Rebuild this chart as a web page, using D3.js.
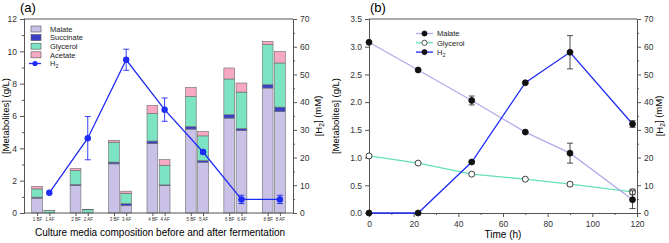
<!DOCTYPE html>
<html>
<head>
<meta charset="utf-8">
<script src="https://cdn.jsdelivr.net/npm/d3@7"></script>
<style>
  body { margin: 0; background: #fff; }
  svg { font-family: "Liberation Sans", Arial, sans-serif; }
</style>
</head>
<body>
<svg id="chart" width="669" height="243"></svg>
<script>
// panel (a) - metabolites before / after fermentation
const groups = ['1', '2', '3', '4', '5', '6', '8']
const phases = ['BF', 'AF']
const barLabels = ['1 BF', '1 AF', '2 BF', '2 AF', '3 BF', '3 AF', '4 BF', '4 AF', '5 BF', '5 AF', '6 BF', '6 AF', '8 BF', '8 AF']
const malate = [0.92, 0, 1.70, 0, 3.04, 0.45, 4.30, 1.70, 5.19, 3.14, 5.87, 5.10, 7.73, 6.28]
const succinate = [0.06, 0, 0.06, 0, 0.11, 0.13, 0.15, 0.04, 0.16, 0.10, 0.21, 0.12, 0.21, 0.27]
const glycerol = [0.51, 0.15, 0.87, 0.20, 1.23, 0.64, 1.70, 1.21, 1.86, 1.53, 2.21, 2.26, 2.48, 2.73]
const acetate = [0.16, 0.02, 0.12, 0.02, 0.12, 0.13, 0.50, 0.35, 0.56, 0.27, 0.68, 0.56, 0.20, 0.72]
const h2Groups = [7.3, 27, 55.3, 37.3, 22, 4.9, 4.9]
const h2GroupsErr = [0, 7.8, 3.8, 4.2, 0.6, 1.5, 1.5]

// panel (b) - time course
const timeH = [0, 22, 46, 70, 90, 118]
const malateT = [3.08, 2.58, 2.03, 1.46, 1.08, 0.24]
const malateTErr = [0, 0, 0.08, 0, 0.18, 0.16]
const glycerolT = [1.03, 0.90, 0.70, 0.61, 0.52, 0.38]
const glycerolTErr = [0, 0, 0, 0, 0.03, 0.05]
const h2T = [0, 0, 18.4, 47, 58, 32.1]
const h2TErr = [0, 0, 0, 0, 6, 1.2]

const COL = {
    malate: '#c9c1e6',
    succinate: '#3b40c8',
    glycerol: '#7ce3c3',
    acetate: '#f7a9c2',
    h2: '#1f2cf5',
    malateLine: '#b4acea',
    glycerolLine: '#63e2b6',
    axis: '#555'
}
const TICK_FONT = 8.5

const svg = d3.select('#chart')

// "H" with subscript 2, plus optional tail
function h2Text(sel, tail) {
    sel.text(sel.attr('data-head') || 'H')
    sel.append('tspan').attr('font-size', '0.7em').attr('dy', '0.35em').text('2')
    sel.append('tspan').attr('dy', '-0.35em').text(tail || '')
}

function styleAxis(g, size) {
    g.select('.domain').attr('stroke', COL.axis)
    g.selectAll('.tick line').attr('stroke', COL.axis)
    g.selectAll('.tick text').attr('fill', '#333').attr('font-size', size || TICK_FONT)
}

// ---------- panel a ----------
const A = {left: 24, right: 293, top: 19, bottom: 213}
const xa = d3.scaleBand().domain(groups).range([A.left, A.right])
const xaIn = d3.scaleBand().domain(phases).range([-11.5, 11.5]).paddingInner(0.12)
const ya = d3.scaleLinear().domain([0, 12]).range([A.bottom, A.top])
const yaR = d3.scaleLinear().domain([0, 70]).range([A.bottom, A.top])
const barX = (g, p) => xa(g) + xa.bandwidth() / 2 + xaIn(p)

const rows = barLabels.map((l, i) => ({
    group: groups[Math.floor(i / 2)], phase: phases[i % 2],
    malate: malate[i], succinate: succinate[i], glycerol: glycerol[i], acetate: acetate[i]
}))
const keys = ['malate', 'succinate', 'glycerol', 'acetate']
const stacked = d3.stack().keys(keys)(rows)

const gA = svg.append('g')
gA.selectAll('g.layer').data(stacked).enter().append('g')
    .attr('class', 'layer')
    .attr('fill', (d) => COL[d.key])
    .selectAll('rect').data((d) => d.filter((s) => s[1] - s[0] > 0)).enter().append('rect')
    .attr('x', (d) => barX(d.data.group, d.data.phase))
    .attr('width', xaIn.bandwidth())
    .attr('y', (d) => ya(d[1]))
    .attr('height', (d) => ya(d[0]) - ya(d[1]))
    .attr('stroke', '#6a6a6a')
    .attr('stroke-width', 0.6)

// frame top + bottom
gA.append('line').attr('x1', A.left).attr('x2', A.right).attr('y1', A.top).attr('y2', A.top)
    .attr('stroke', COL.axis)
gA.append('line').attr('x1', A.left).attr('x2', A.right).attr('y1', A.bottom).attr('y2', A.bottom)
    .attr('stroke', COL.axis)

gA.append('g').attr('transform', `translate(${A.left},0)`)
    .call(d3.axisLeft(ya).tickValues(d3.range(0, 13, 2)).tickSize(4).tickPadding(3))
    .call(styleAxis)
gA.append('g').attr('transform', `translate(${A.left},0)`)
    .call(d3.axisLeft(ya).tickValues(d3.range(1, 12, 2)).tickSize(2).tickFormat(''))
    .call(styleAxis)
gA.append('g').attr('transform', `translate(${A.right},0)`)
    .call(d3.axisRight(yaR).tickValues(d3.range(0, 71, 10)).tickSize(4).tickPadding(3))
    .call(styleAxis)
gA.append('g').attr('transform', `translate(${A.right},0)`)
    .call(d3.axisRight(yaR).tickValues(d3.range(5, 70, 10)).tickSize(2).tickFormat(''))
    .call(styleAxis)

const centers = rows.map((r) => barX(r.group, r.phase) + xaIn.bandwidth() / 2)
const xTickScale = d3.scaleOrdinal().domain(barLabels).range(centers)
gA.append('g').attr('transform', `translate(0,${A.bottom})`)
    .call(d3.axisBottom(xTickScale).tickSize(3).tickPadding(2))
    .call((g) => g.select('.domain').remove())
    .call(styleAxis, 4.5)

// H2 line (a)
const h2Pts = groups.map((g, i) => ({
    x: barX(g, 'AF') + xaIn.bandwidth() / 2,
    v: h2Groups[i], e: h2GroupsErr[i]
}))
gA.append('path').datum(h2Pts)
    .attr('fill', 'none').attr('stroke', COL.h2).attr('stroke-width', 1.3)
    .attr('d', d3.line().x((d) => d.x).y((d) => yaR(d.v)))
const errA = gA.selectAll('g.errA').data(h2Pts.filter((d) => d.e > 0)).enter().append('g')
    .attr('stroke', COL.h2).attr('stroke-width', 0.9)
errA.append('line').attr('x1', (d) => d.x).attr('x2', (d) => d.x)
    .attr('y1', (d) => yaR(d.v + d.e)).attr('y2', (d) => yaR(d.v - d.e))
errA.append('line').attr('x1', (d) => d.x - 3).attr('x2', (d) => d.x + 3)
    .attr('y1', (d) => yaR(d.v + d.e)).attr('y2', (d) => yaR(d.v + d.e))
errA.append('line').attr('x1', (d) => d.x - 3).attr('x2', (d) => d.x + 3)
    .attr('y1', (d) => yaR(d.v - d.e)).attr('y2', (d) => yaR(d.v - d.e))
gA.selectAll('circle.h2a').data(h2Pts).enter().append('circle')
    .attr('cx', (d) => d.x).attr('cy', (d) => yaR(d.v)).attr('r', 3.2).attr('fill', COL.h2)

// legend (a)
const legA = gA.append('g').attr('font-size', 7.5).attr('fill', '#222')
const legItems = [['Malate', 'malate'], ['Succinate', 'succinate'], ['Glycerol', 'glycerol'], ['Acetate', 'acetate']]
legItems.forEach(([name, key], i) => {
    const y = 29 + i * 8.6
    legA.append('rect').attr('x', 31).attr('y', y - 3).attr('width', 10).attr('height', 6)
        .attr('fill', COL[key]).attr('stroke', '#555').attr('stroke-width', 0.6)
    legA.append('text').attr('x', 50).attr('y', y + 2.7).text(name)
})
legA.append('line').attr('x1', 29).attr('x2', 41).attr('y1', 63.5).attr('y2', 63.5)
    .attr('stroke', COL.h2).attr('stroke-width', 1.3)
legA.append('circle').attr('cx', 35).attr('cy', 63.5).attr('r', 2.6).attr('fill', COL.h2)
legA.append('text').attr('x', 50).attr('y', 66.2).call(h2Text)

// titles (a)
svg.append('text').attr('x', 20).attr('y', 12).attr('font-size', 13).text('(a)')
svg.append('text').attr('transform', 'translate(9,116) rotate(-90)').attr('text-anchor', 'middle')
    .attr('font-size', 9.5).text('[Metabolites] (g/L)')
svg.append('text').attr('transform', 'translate(322,116) rotate(-90)').attr('text-anchor', 'middle')
    .attr('font-size', 9.5).attr('data-head', '[H').call(h2Text, '] (mM)')
svg.append('text').attr('x', 160).attr('y', 236).attr('text-anchor', 'middle')
    .attr('font-size', 10).text('Culture media composition before and after fermentation')

// ---------- panel b ----------
const B = {left: 369, right: 637, top: 19, bottom: 213}
const xb = d3.scaleLinear().domain([0, 120]).range([B.left, B.right])
const yb = d3.scaleLinear().domain([0, 3.5]).range([B.bottom, B.top])
const ybR = d3.scaleLinear().domain([0, 70]).range([B.bottom, B.top])
const gB = svg.append('g')

gB.append('line').attr('x1', B.left).attr('x2', B.right).attr('y1', B.top).attr('y2', B.top)
    .attr('stroke', COL.axis)
gB.append('g').attr('transform', `translate(${B.left},0)`)
    .call(d3.axisLeft(yb).tickValues(d3.range(0, 3.51, 0.5)).tickFormat(d3.format('.1f')).tickSize(4).tickPadding(3))
    .call(styleAxis)
gB.append('g').attr('transform', `translate(${B.right},0)`)
    .call(d3.axisRight(ybR).tickValues(d3.range(0, 71, 10)).tickSize(4).tickPadding(3))
    .call(styleAxis)
gB.append('g').attr('transform', `translate(${B.right},0)`)
    .call(d3.axisRight(ybR).tickValues(d3.range(5, 70, 10)).tickSize(2).tickFormat(''))
    .call(styleAxis)
gB.append('g').attr('transform', `translate(0,${B.bottom})`)
    .call(d3.axisBottom(xb).tickValues(d3.range(0, 121, 20)).tickSize(4).tickPadding(4))
    .call(styleAxis)
gB.append('g').attr('transform', `translate(0,${B.bottom})`)
    .call(d3.axisBottom(xb).tickValues(d3.range(10, 120, 20)).tickSize(2).tickFormat(''))
    .call(styleAxis)

function series(vals, errs, scale, lineColor, fill) {
    const pts = timeH.map((t, i) => ({t: t, v: vals[i], e: errs[i]}))
    gB.append('path').datum(pts).attr('fill', 'none').attr('stroke', lineColor).attr('stroke-width', 1.3)
        .attr('d', d3.line().x((d) => xb(d.t)).y((d) => scale(d.v)))
    const eb = gB.append('g').selectAll('g').data(pts.filter((d) => d.e > 0)).enter().append('g')
        .attr('stroke', '#222').attr('stroke-width', 0.8)
    const lo = (d) => scale(Math.max(0, d.v - d.e))
    const hi = (d) => scale(d.v + d.e)
    eb.append('line').attr('x1', (d) => xb(d.t)).attr('x2', (d) => xb(d.t)).attr('y1', hi).attr('y2', lo)
    eb.append('line').attr('x1', (d) => xb(d.t) - 3).attr('x2', (d) => xb(d.t) + 3).attr('y1', hi).attr('y2', hi)
    eb.append('line').attr('x1', (d) => xb(d.t) - 3).attr('x2', (d) => xb(d.t) + 3).attr('y1', lo).attr('y2', lo)
    gB.append('g').selectAll('circle').data(pts).enter().append('circle')
        .attr('cx', (d) => xb(d.t)).attr('cy', (d) => scale(d.v)).attr('r', 3)
        .attr('fill', fill).attr('stroke', '#111').attr('stroke-width', 0.8)
}
series(glycerolT, glycerolTErr, yb, COL.glycerolLine, '#fff')
series(malateT, malateTErr, yb, COL.malateLine, '#111')
series(h2T, h2TErr, ybR, COL.h2, '#111')

// legend (b)
const legB = gB.append('g').attr('font-size', 7.5).attr('fill', '#222')
const legBItems = [['Malate', COL.malateLine, '#111'], ['Glycerol', COL.glycerolLine, '#fff'], ['H2', COL.h2, '#111']]
legBItems.forEach(([name, lc, fc], i) => {
    const y = 33.5 + i * 9.3
    legB.append('line').attr('x1', 416).attr('x2', 433).attr('y1', y).attr('y2', y)
        .attr('stroke', lc).attr('stroke-width', 1.3)
    legB.append('circle').attr('cx', 424.5).attr('cy', y).attr('r', 2.6)
        .attr('fill', fc).attr('stroke', '#111').attr('stroke-width', 0.7)
    const t = legB.append('text').attr('x', 437).attr('y', y + 2.7)
    if (name === 'H2') t.call(h2Text)
    else t.text(name)
})

// titles (b)
svg.append('text').attr('x', 370).attr('y', 12).attr('font-size', 13).text('(b)')
svg.append('text').attr('transform', 'translate(339,116) rotate(-90)').attr('text-anchor', 'middle')
    .attr('font-size', 9.5).text('[Metabolites] (g/L)')
svg.append('text').attr('transform', 'translate(663,116) rotate(-90)').attr('text-anchor', 'middle')
    .attr('font-size', 9.5).attr('data-head', '[H').call(h2Text, '] (mM)')
svg.append('text').attr('x', 503).attr('y', 238).attr('text-anchor', 'middle')
    .attr('font-size', 10).text('Time (h)')
</script>
</body>
</html>
